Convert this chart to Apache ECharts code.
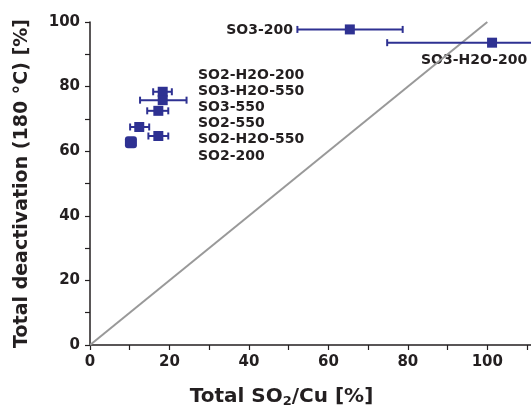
<!DOCTYPE html>
<html><head><meta charset="utf-8">
<script src="https://cdn.jsdelivr.net/npm/echarts@6/dist/echarts.min.js"></script>
<style>html,body{margin:0;padding:0;background:#fff}#c{width:531px;height:407px}</style>
</head><body><div id="c"></div>
<script>
// Sample names
const names = ['SO3-200','SO3-H2O-200','SO2-H2O-200','SO3-H2O-550','SO3-550','SO2-550','SO2-H2O-550','SO2-200'];
// Total SO2/Cu [%] (x)
const xVals = [65.4, 101.2, 18.3, 18.3, 17.2, 12.4, 17.2, 10.3];
// Total deactivation (180 °C) [%] (y)
const yVals = [97.7, 93.6, 78.4, 75.8, 72.5, 67.5, 64.7, 62.8];
// x error bar ends
const xErrLow  = [52.2, 74.8, 15.9, 12.6, 14.4, 10.1, 14.7, 10.3];
const xErrHigh = [78.7, 130.0, 20.6, 24.3, 19.7, 14.9, 19.7, 10.3];
// 1:1 reference line
const refX = [0, 100];
const refY = [0, 100];
// tick labels
const xTicks = [0, 20, 40, 60, 80, 100];
const yTicks = [0, 20, 40, 60, 80, 100];
// label blocks
const clusterLabels = ['SO2-H2O-200','SO3-H2O-550','SO3-550','SO2-550','SO2-H2O-550','SO2-200'];

const navy = '#2e3192';
const ink = '#231f20';
const FONT = 'DejaVu Sans';

const chart = echarts.init(document.getElementById('c'), null, {renderer:'canvas'});

const pts = names.map((n,i)=>[xVals[i], yVals[i], xErrLow[i], xErrHigh[i]]);

const clusterText = clusterLabels.map((t,i)=>({
  type:'text', left:198, top: 68 + i*16.2,
  style:{text:t, font:'bold 14px "' + FONT + '"', fill:ink}
}));

chart.setOption({
  animation:false,
  backgroundColor:'#fff',
  grid:{left:90, right:0, top:22, bottom:62, containLabel:false, outerBoundsMode:'none'},
  xAxis:{
    type:'value', min:0, max:111, interval:10,
    axisLine:{show:true, onZero:false, lineStyle:{color:ink, width:1.5}},
    axisTick:{show:true, length:5, lineStyle:{color:ink, width:1.2}},
    splitLine:{show:false},
    axisLabel:{margin:10, color:ink, fontFamily:FONT, fontWeight:'bold', fontSize:15, showMaxLabel:false,
      formatter:v=> xTicks.includes(v) ? String(v) : ''},
    name:'Total SO{sub|2}/Cu [%]', nameLocation:'middle', nameGap:41,
    nameTextStyle:{color:ink, fontFamily:FONT, fontWeight:'bold', fontSize:20, padding:[0,58,0,0],
      rich:{sub:{fontSize:13, fontFamily:FONT, fontWeight:'bold', color:ink, verticalAlign:'bottom', padding:[9,0,0,0]}}}
  },
  yAxis:{
    type:'value', min:0, max:100, interval:10,
    axisLine:{show:true, onZero:false, lineStyle:{color:ink, width:1.5}},
    axisTick:{show:true, length:5, lineStyle:{color:ink, width:1.2}},
    splitLine:{show:false},
    axisLabel:{margin:10, color:ink, fontFamily:FONT, fontWeight:'bold', fontSize:15,
      formatter:v=> yTicks.includes(v) ? String(v) : ''},
    name:'Total deactivation (180 °C) [%]', nameLocation:'middle', nameGap:58, nameRotate:90,
    nameTextStyle:{color:ink, fontFamily:FONT, fontWeight:'bold', fontSize:19}
  },
  graphic:[
    {type:'text', right:531-293, top:23, style:{text:'SO3-200', font:'bold 14px "' + FONT + '"', fill:ink}},
    {type:'text', left:421, top:53, style:{text:'SO3-H2O-200', font:'bold 14px "' + FONT + '"', fill:ink}},
    ...clusterText
  ],
  series:[
    {
      type:'line', data: refX.map((x,i)=>[x, refY[i]]), symbol:'none',
      lineStyle:{color:'#999999', width:2}, z:1, silent:true
    },
    {
      type:'custom', clip:true, z:3,
      data: pts,
      renderItem:(params, api)=>{
        const y = api.value(1);
        const p0 = api.coord([api.value(2), y]);
        const p1 = api.coord([api.value(3), y]);
        if (Math.abs(p1[0]-p0[0]) < 1) return {type:'group', children:[]};
        const cap = 3.5;
        const st = {stroke:navy, lineWidth:2};
        return {type:'group', children:[
          {type:'line', shape:{x1:p0[0], y1:p0[1], x2:p1[0], y2:p1[1]}, style:st},
          {type:'line', shape:{x1:p0[0], y1:p0[1]-cap, x2:p0[0], y2:p0[1]+cap}, style:st},
          {type:'line', shape:{x1:p1[0], y1:p1[1]-cap, x2:p1[0], y2:p1[1]+cap}, style:st}
        ]};
      }
    },
    {
      type:'scatter', z:4,
      data: pts.map((p,i)=>({value:[p[0], p[1]], symbol: (xErrHigh[i]-xErrLow[i] < 0.5) ? 'roundRect' : 'rect',
        symbolSize: (xErrHigh[i]-xErrLow[i] < 0.5) ? 12 : 10})),
      itemStyle:{color:navy, opacity:1}
    }
  ]
});
</script></body></html>
